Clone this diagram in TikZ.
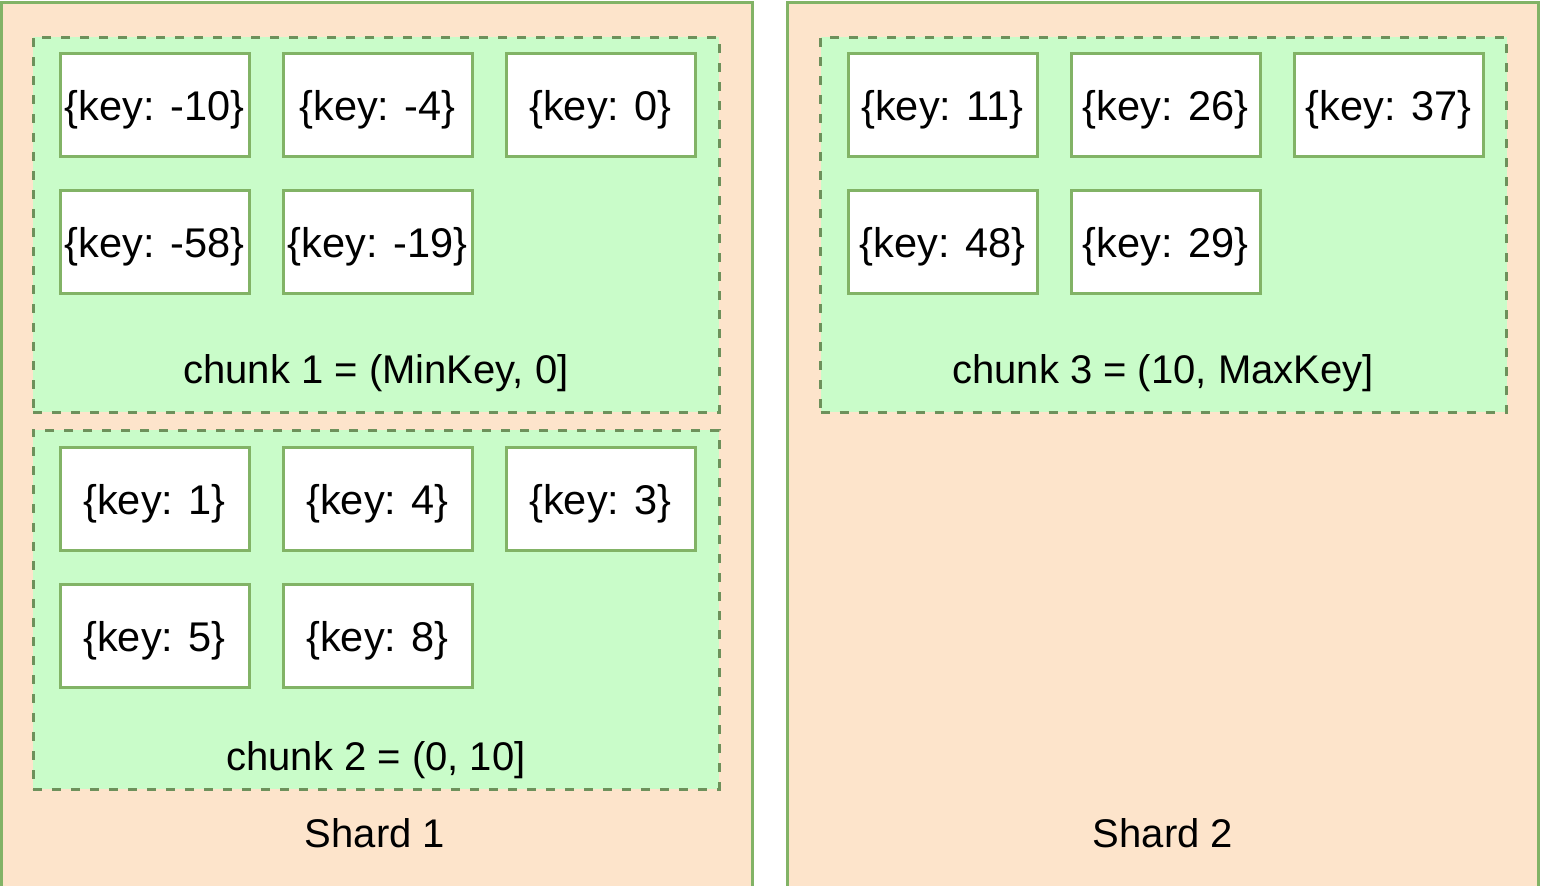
\documentclass[tikz,border=0pt]{standalone}
\usepackage{fontspec}
\setmainfont{Liberation Sans}
\definecolor{shardfill}{HTML}{FDE4CB}
\definecolor{chunkfill}{HTML}{C9FCC9}
\definecolor{greenline}{HTML}{82B366}
\definecolor{dashline}{HTML}{6D915B}

\begin{document}
\begin{tikzpicture}[
  x=1pt,
  y=-1pt,
  shard/.style={
    draw=greenline,
    fill=shardfill,
    line width=3pt,
    minimum width=751pt,
    minimum height=898pt
  },
  chunk/.style={
    draw=dashline,
    fill=chunkfill,
    line width=3pt,
    dash pattern=on 9pt off 10pt,
    minimum width=686pt
  },
  keybox/.style={
    draw=greenline,
    fill=white,
    line width=3pt,
    minimum width=189pt,
    minimum height=103pt,
    inner sep=0pt,
    text height=40pt,
    text depth=9pt,
    font=\fontsize{41.5}{48}\selectfont
  },
  caption/.style={
    inner sep=0pt,
    font=\fontsize{40}{48}\selectfont
  },
]
\clip (0,0) rectangle (1542,886);
\fill[white] (0,0) rectangle (1542,886);
\node[shard] (shard1) at (376.5,451) {};
\node[shard] (shard2) at (1162.5,451) {};
\node[chunk,minimum height=375pt] (chunk1) at (376,224.5) {};
\node[chunk,minimum height=359pt] (chunk2) at (376,609.5) {};
\node[chunk,minimum height=375pt] (chunk3) at (1163.5,224.5) {};
\node[keybox] (k1) at (154.5,104.5) {\{key: -10\}};
\node[keybox] (k2) at (377.5,104.5) {\{key: -4\}};
\node[keybox] (k3) at (600.5,104.5) {\{key: 0\}};
\node[keybox] (k4) at (154.5,241.5) {\{key: -58\}};
\node[keybox] (k5) at (377.5,241.5) {\{key: -19\}};
\node[keybox] (k6) at (154.5,498.5) {\{key: 1\}};
\node[keybox] (k7) at (377.5,498.5) {\{key: 4\}};
\node[keybox] (k8) at (600.5,498.5) {\{key: 3\}};
\node[keybox] (k9) at (154.5,635.5) {\{key: 5\}};
\node[keybox] (k10) at (377.5,635.5) {\{key: 8\}};
\node[keybox] (k11) at (942.5,104.5) {\{key: 11\}};
\node[keybox] (k12) at (1165.5,104.5) {\{key: 26\}};
\node[keybox] (k13) at (1388.5,104.5) {\{key: 37\}};
\node[keybox] (k14) at (942.5,241.5) {\{key: 48\}};
\node[keybox] (k15) at (1165.5,241.5) {\{key: 29\}};
\node[caption] (c1) at (376,373) {chunk 1 = (MinKey, 0]};
\node[caption] (c2) at (376,760) {chunk 2 = (0, 10]};
\node[caption] (c3) at (1163,373) {chunk 3 = (10, MaxKey]};
\node[caption] (s1) at (375,833) {Shard 1};
\node[caption] (s2) at (1163,833) {Shard 2};
\end{tikzpicture}
\end{document}
